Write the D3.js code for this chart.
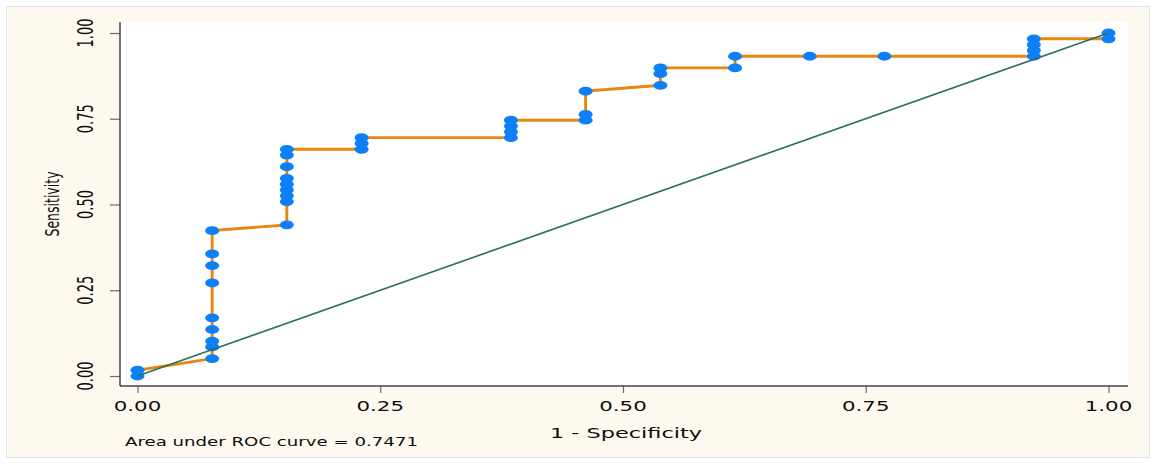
<!DOCTYPE html>
<html>
<head>
<meta charset="utf-8">
<script src="https://cdn.jsdelivr.net/npm/d3@7"></script>
<style>
  body { margin: 0; background: #fff; }
  text { font-family: "DejaVu Sans", Verdana, sans-serif; fill: #0d0d0d; }
</style>
</head>
<body>
<div id="roc"></div>
<script>
// 1 - specificity / sensitivity for each cutoff
const oneMinusSpec = [0, 0, 0.0769, 0.0769, 0.0769, 0.0769, 0.0769, 0.0769, 0.0769, 0.0769, 0.0769,
    0.1538, 0.1538, 0.1538, 0.1538, 0.1538, 0.1538, 0.1538, 0.1538, 0.1538,
    0.2308, 0.2308, 0.2308, 0.3846, 0.3846, 0.3846, 0.3846,
    0.4615, 0.4615, 0.4615, 0.5385, 0.5385, 0.5385, 0.6154, 0.6154,
    0.6923, 0.7692, 0.9231, 0.9231, 0.9231, 0.9231, 1, 1];
const sensitivity = [0, 0.0169, 0.0508, 0.0847, 0.1017, 0.1356, 0.1695, 0.2712, 0.3220, 0.3559, 0.4237,
    0.4407, 0.5085, 0.5254, 0.5424, 0.5593, 0.5763, 0.6102, 0.6441, 0.6610,
    0.6610, 0.6780, 0.6949, 0.6949, 0.7119, 0.7288, 0.7458,
    0.7458, 0.7627, 0.8305, 0.8475, 0.8814, 0.8983, 0.8983, 0.9322,
    0.9322, 0.9322, 0.9322, 0.9492, 0.9661, 0.9831, 0.9831, 1];
const tickValues = [0, 0.25, 0.5, 0.75, 1];
const tickLabels = ["0.00", "0.25", "0.50", "0.75", "1.00"];
const aucText = "Area under ROC curve = 0.7471";

const W = 1156, H = 463;
const plot = {left: 120, top: 22, right: 1128, bottom: 386};
const stretch = 1.58; // picture is widened horizontally

const data = oneMinusSpec.map((x, i) => ({x: x, y: sensitivity[i]}));

const svg = d3.select("#roc").append("svg")
    .attr("width", W)
    .attr("height", H);

// graph region + plot region
svg.append("rect")
    .attr("x", 6.5).attr("y", 6.5)
    .attr("width", 1143).attr("height", 451)
    .attr("fill", "#fdf9ef")
    .attr("stroke", "#dde6ea");
svg.append("rect")
    .attr("x", plot.left).attr("y", plot.top)
    .attr("width", plot.right - plot.left).attr("height", plot.bottom - plot.top)
    .attr("fill", "#fff");

const xScale = d3.scaleLinear().domain([0, 1]).range([137.5, 1108.5]);
const yScale = d3.scaleLinear().domain([0, 1]).range([376, 33]);

// axes
const xAxis = svg.append("g")
    .attr("transform", `translate(0, ${plot.bottom})`)
    .call(d3.axisBottom(xScale).tickValues(tickValues).tickSize(7).tickFormat(""));
const yAxis = svg.append("g")
    .attr("transform", `translate(${plot.left}, 0)`)
    .call(d3.axisLeft(yScale).tickValues(tickValues).tickSize(10).tickFormat(""));
[xAxis, yAxis].forEach(g => {
    g.select(".domain").remove();
    g.selectAll(".tick line").attr("stroke", "#6b6b6b").attr("stroke-width", 1.2);
});

svg.append("line")
    .attr("x1", plot.left).attr("x2", plot.left)
    .attr("y1", plot.top).attr("y2", plot.bottom)
    .attr("stroke", "#444").attr("stroke-width", 1.5);
svg.append("line")
    .attr("x1", plot.left).attr("x2", plot.right)
    .attr("y1", plot.bottom).attr("y2", plot.bottom)
    .attr("stroke", "#444").attr("stroke-width", 1.5);

// tick labels
svg.append("g")
    .selectAll("text")
    .data(tickValues)
    .enter()
    .append("text")
    .attr("text-anchor", "middle")
    .attr("font-size", 13.5)
    .attr("transform", d => `translate(${xScale(d)}, 411) scale(${stretch}, 1)`)
    .text((d, i) => tickLabels[i]);

svg.append("g")
    .selectAll("text")
    .data(tickValues)
    .enter()
    .append("text")
    .attr("text-anchor", "middle")
    .attr("font-size", 13)
    .attr("transform", d => `translate(93, ${yScale(d)}) scale(${stretch}, 1) rotate(-90)`)
    .text((d, i) => tickLabels[i]);

// axis titles and note
svg.append("text")
    .attr("text-anchor", "middle")
    .attr("font-size", 12.5)
    .attr("transform", `translate(59, 204) scale(${stretch}, 1) rotate(-90)`)
    .text("Sensitivity");

svg.append("text")
    .attr("x", 550).attr("y", 438)
    .attr("font-size", 14.5)
    .attr("textLength", 152)
    .attr("lengthAdjust", "spacingAndGlyphs")
    .text("1 - Specificity");

svg.append("text")
    .attr("x", 125).attr("y", 446)
    .attr("font-size", 12.5)
    .attr("textLength", 293)
    .attr("lengthAdjust", "spacingAndGlyphs")
    .text(aucText);

// ROC curve
svg.append("path")
    .datum(data)
    .attr("fill", "none")
    .attr("stroke", "#e8860f")
    .attr("stroke-width", 2.9)
    .attr("d", d3.line().x(d => xScale(d.x)).y(d => yScale(d.y)));

svg.append("g")
    .selectAll("ellipse")
    .data(data)
    .enter()
    .append("ellipse")
    .attr("cx", d => xScale(d.x))
    .attr("cy", d => yScale(d.y))
    .attr("rx", 7)
    .attr("ry", 4.4)
    .attr("fill", "#0d80f7");

// reference line
svg.append("line")
    .attr("x1", xScale(0)).attr("y1", yScale(0))
    .attr("x2", xScale(1)).attr("y2", yScale(1))
    .attr("stroke", "#2c6e64")
    .attr("stroke-width", 1.6);
</script>
</body>
</html>
